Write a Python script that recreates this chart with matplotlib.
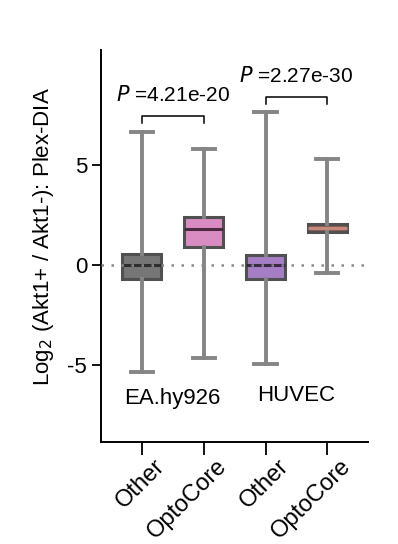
import matplotlib
matplotlib.use("Agg")
import matplotlib.pyplot as plt
from matplotlib.transforms import ScaledTranslation

plt.rcParams['font.family'] = ['Liberation Sans', 'DejaVu Sans']

categories = ["Other", "OptoCore", "Other", "OptoCore"]
groups = ["EA.hy926", "HUVEC"]
whislo = [-5.35, -4.67, -4.95, -0.42]
q1 = [-0.68, 0.88, -0.68, 1.64]
med = [0.0, 1.78, 0.0, 1.85]
q3 = [0.55, 2.42, 0.50, 2.07]
whishi = [6.67, 5.82, 7.63, 5.28]
pvals = ["4.21e-20", "2.27e-30"]
colors = ["#767676", "#d98cc2", "#a67ec6", "#8e5c56"]
median_colors = ["#2e2e2e", "#4a2a40", "#3a2a48", "#c48a7c"]

fig = plt.figure(figsize=(3.98, 5.44), dpi=100)
ax = fig.add_axes([0.254, 0.1875, 0.671, 0.7205])

stats = []
for i in range(4):
    stats.append(dict(whislo=whislo[i], q1=q1[i], med=med[i], q3=q3[i],
                      whishi=whishi[i], fliers=[], label=categories[i]))
pos = list(range(4))
bp = ax.bxp(stats, positions=pos, widths=0.63, patch_artist=True,
            showfliers=False,
            whiskerprops=dict(color="#858585", linewidth=2.8),
            capprops=dict(color="#858585", linewidth=2.8),
            medianprops=dict(color="#333333", linewidth=2.2),
            boxprops=dict(linewidth=2.2))
for i, b in enumerate(bp['boxes']):
    b.set_facecolor(colors[i])
    b.set_edgecolor("#505050")
for i, m in enumerate(bp['medians']):
    m.set_color(median_colors[i])
for c in bp['caps']:
    x0, x1 = c.get_xdata()
    mid = (x0 + x1) / 2
    c.set_xdata([mid - 0.18, mid + 0.18])

ax.axhline(0, color="#8a8a8a", linestyle=(0, (1, 3)), linewidth=1.8, zorder=5)

# brackets
br_y = [7.45, 8.42]
for g in range(2):
    x0, x1 = pos[2 * g], pos[2 * g + 1]
    y = br_y[g]
    ax.plot([x0, x0, x1, x1], [y - 0.37, y, y, y - 0.37], color="black", lw=1.1)
    ax.text((x0 + x1) / 2, y + 0.55, r"$\it{P}$ =" + pvals[g], ha="center",
            va="bottom", fontsize=15)

lab_y = [-6.65, -6.5]
for g in range(2):
    ax.text((pos[2 * g] + pos[2 * g + 1]) / 2, lab_y[g], groups[g],
            ha="center", va="center", fontsize=16)

ax.set_xlim(-0.66, 3.66)
ax.set_ylim(-8.85, 10.75)
ax.set_yticks([-5, 0, 5])
ax.set_yticklabels(["-5", "0", "5"])
ax.set_xticks(pos)
ax.set_xticklabels(categories, rotation=45, ha="right", rotation_mode="anchor")
ax.tick_params(axis="both", labelsize=16, width=1.3)
ax.tick_params(axis="x", length=9, labelsize=17, pad=2)
ax.tick_params(axis="y", length=6.5)
off = ScaledTranslation(12 / 100, 2 / 100, fig.dpi_scale_trans)
for lbl in ax.get_xticklabels():
    lbl.set_transform(lbl.get_transform() + off)
for s in ["top", "right"]:
    ax.spines[s].set_visible(False)
for s in ["left", "bottom"]:
    ax.spines[s].set_linewidth(1.4)
ax.set_ylabel("Log$_2$ (Akt1+ / Akt1-): Plex-DIA", fontsize=16)
ax.yaxis.set_label_coords(-0.17, 0.524)

fig.savefig("out.png", dpi=100)
